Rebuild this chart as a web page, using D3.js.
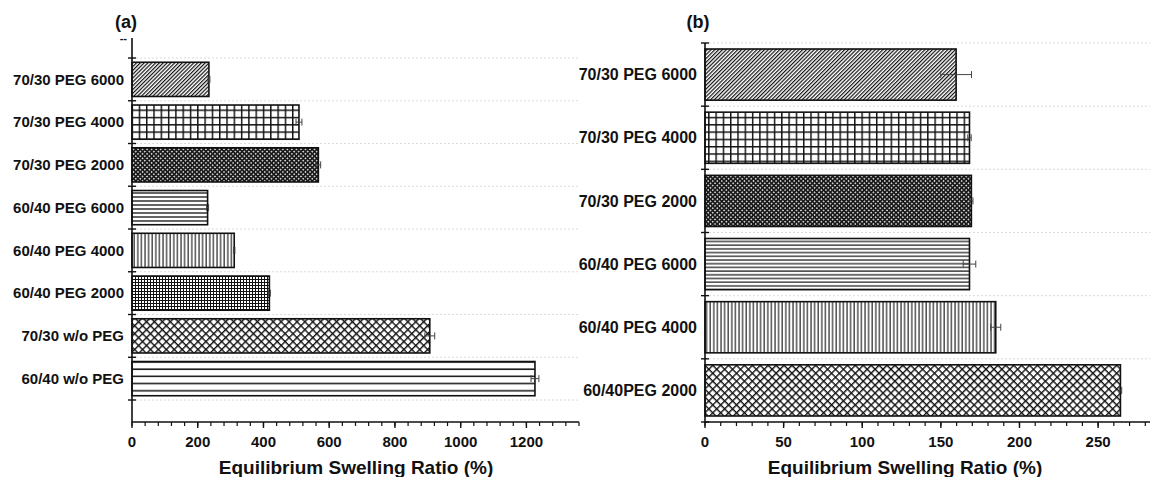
<!DOCTYPE html>
<html><head><meta charset="utf-8">
<script src="https://cdn.jsdelivr.net/npm/d3@7"></script>
<style>
body{margin:0;background:#fff;}
svg{display:block;font-family:"Liberation Sans",Arial,sans-serif;font-weight:bold;}
</style></head>
<body>
<svg id="chart" width="1153" height="477"></svg>
<script>
// Panel (a)
const catsA = ["70/30 PEG 6000","70/30 PEG 4000","70/30 PEG 2000","60/40 PEG 6000","60/40 PEG 4000","60/40 PEG 2000","70/30 w/o PEG","60/40 w/o PEG"];
const valsA = [234, 508, 567, 230, 311, 418, 906, 1226];
const errA  = [3, 9, 7, 3, 2, 3, 15, 12];
const patA  = ["diag","grid","dots","hlines","vlines","fgrid","xhatch","hsparse"];
const ticksA = [0,200,400,600,800,1000,1200];
// Panel (b)
const catsB = ["70/30 PEG 6000","70/30 PEG 4000","70/30 PEG 2000","60/40 PEG 6000","60/40 PEG 4000","60/40PEG 2000"];
const valsB = [159.7, 168.2, 169.4, 168.2, 184.9, 264.2];
const errB  = [9.8, 1.1, 1.0, 4.0, 3.2, 0.8];
const patB  = ["diag","grid","dots","hlines2","vlines","xhatch"];
const ticksB = [0,50,100,150,200,250];

const svg = d3.select("#chart");
const defs = svg.append("defs");
function pat(id, w, h, transform){
  const p = defs.append("pattern").attr("id", id).attr("patternUnits","userSpaceOnUse")
    .attr("width", w).attr("height", h);
  if (transform) p.attr("patternTransform", transform);
  p.append("rect").attr("width", w).attr("height", h).attr("fill","#fff");
  return p;
}
// diagonal
pat("diag", 2.7, 10, "rotate(45)").append("line").attr("x1",0.6).attr("x2",0.6).attr("y1",0).attr("y2",10).attr("stroke","#111").attr("stroke-width",1.2);
// grid
{ const p = pat("grid", 7.3, 7.3);
  p.append("line").attr("x1",0).attr("x2",7.3).attr("y1",0.7).attr("y2",0.7).attr("stroke","#111").attr("stroke-width",1.5);
  p.append("line").attr("y1",0).attr("y2",7.3).attr("x1",0.7).attr("x2",0.7).attr("stroke","#111").attr("stroke-width",1.5); }
// dots
{ const p = pat("dots", 3.2, 3.2, "rotate(45)");
  p.select("rect").attr("fill","#1a1a1a");
  p.append("rect").attr("x",0.9).attr("y",0.9).attr("width",1.4).attr("height",1.4).attr("fill","#fff"); }
// horizontal lines
pat("hlines", 10, 4).append("line").attr("x1",0).attr("x2",10).attr("y1",1).attr("y2",1).attr("stroke","#111").attr("stroke-width",1.3);
pat("hlines2", 10, 3.7).append("line").attr("x1",0).attr("x2",10).attr("y1",1).attr("y2",1).attr("stroke","#111").attr("stroke-width",1.2);
// vertical lines
pat("vlines", 3.6, 10).append("line").attr("x1",1).attr("x2",1).attr("y1",0).attr("y2",10).attr("stroke","#111").attr("stroke-width",1.1);
// fine grid
{ const p = pat("fgrid", 3, 3);
  p.append("line").attr("x1",0).attr("x2",3).attr("y1",0.5).attr("y2",0.5).attr("stroke","#111").attr("stroke-width",1);
  p.append("line").attr("y1",0).attr("y2",3).attr("x1",0.5).attr("x2",0.5).attr("stroke","#111").attr("stroke-width",1); }
// cross hatch
{ const p = pat("xhatch", 5.6, 5.6, "rotate(45)");
  p.append("line").attr("x1",0).attr("x2",5.6).attr("y1",0.7).attr("y2",0.7).attr("stroke","#111").attr("stroke-width",1.4);
  p.append("line").attr("y1",0).attr("y2",5.6).attr("x1",0.7).attr("x2",0.7).attr("stroke","#111").attr("stroke-width",1.4); }
// sparse horizontal
pat("hsparse", 10, 7.2).append("line").attr("x1",0).attr("x2",10).attr("y1",2).attr("y2",2).attr("stroke","#111").attr("stroke-width",1.5);

function panel(cfg){
  const {cats, vals, errs, pats, ticks, domainMax, xr, yr, axisTop, xAxisY, minorStep, labelText, labelX} = cfg;
  const g = svg.append("g");
  const x = d3.scaleLinear().domain([0, domainMax]).range(xr);
  const y = d3.scaleBand().domain(cats).range(yr).padding(0);
  const bw = y.bandwidth();
  const inset = bw * cfg.inset;
  const bounds = cats.map(c => y(c)).concat([yr[1]]);

  // gridlines
  g.selectAll(".grid").data(bounds).join("line")
    .attr("x1", xr[0]).attr("x2", xr[1]).attr("y1", d=>d).attr("y2", d=>d)
    .attr("stroke","#d0d0d0").attr("stroke-width",0.8).attr("stroke-dasharray","2,2");

  // bars
  g.selectAll(".bar").data(cats).join("rect")
    .attr("x", x(0)).attr("y", c => y(c) + inset)
    .attr("width", (c,i) => x(vals[i]) - x(0)).attr("height", bw - 2*inset)
    .attr("fill", (c,i) => `url(#${pats[i]})`).attr("stroke","#111").attr("stroke-width",1.6);

  // error bars
  cats.forEach((c,i) => {
    const cy = y(c) + bw/2, x1 = x(vals[i]-errs[i]), x2 = x(vals[i]+errs[i]);
    g.append("line").attr("x1",x1).attr("x2",x2).attr("y1",cy).attr("y2",cy).attr("stroke","#444").attr("stroke-width",1);
    [x1,x2].forEach(xx => g.append("line").attr("x1",xx).attr("x2",xx).attr("y1",cy-3.5).attr("y2",cy+3.5).attr("stroke","#444").attr("stroke-width",1));
  });

  // y axis
  g.append("line").attr("x1",xr[0]).attr("x2",xr[0]).attr("y1",axisTop).attr("y2",xAxisY).attr("stroke","#111").attr("stroke-width",1.6);
  g.selectAll(".yt").data(bounds).join("line")
    .attr("x1", xr[0]-4).attr("x2", xr[0]+4).attr("y1", d=>d).attr("y2", d=>d)
    .attr("stroke","#111").attr("stroke-width",1.4);
  g.selectAll(".yl").data(cats).join("text")
    .attr("x", xr[0]-cfg.labelGap).attr("y", c => y(c) + bw/2).attr("dy","0.35em")
    .attr("text-anchor","end").attr("font-size",cfg.labelSize).attr("fill","#111").text(c=>c);

  // x axis
  g.append("line").attr("x1",xr[0]).attr("x2",xr[1]).attr("y1",xAxisY).attr("y2",xAxisY).attr("stroke","#111").attr("stroke-width",1.6);
  const minors = d3.range(0, domainMax + 0.001, minorStep);
  g.selectAll(".xm").data(minors).join("line")
    .attr("x1", d=>x(d)).attr("x2", d=>x(d)).attr("y1", xAxisY).attr("y2", xAxisY+4)
    .attr("stroke","#111").attr("stroke-width",1.2);
  g.selectAll(".xM").data(ticks).join("line")
    .attr("x1", d=>x(d)).attr("x2", d=>x(d)).attr("y1", xAxisY).attr("y2", xAxisY+6)
    .attr("stroke","#111").attr("stroke-width",1.4);
  g.selectAll(".xl").data(ticks).join("text")
    .attr("x", d=>x(d)).attr("y", xAxisY+20).attr("dy","0.35em").attr("text-anchor","middle")
    .attr("font-size",15).attr("fill","#111").text(d=>d);
  g.append("text").attr("x",cfg.titleX).attr("y",467).attr("dy","0.35em").attr("text-anchor","middle")
    .attr("font-size",19).attr("fill","#111").text("Equilibrium Swelling Ratio (%)");
  g.append("text").attr("x",labelX).attr("y",22).attr("dy","0.35em").attr("text-anchor","middle")
    .attr("font-size",18).attr("fill","#111").text(labelText);
  return g;
}

const gA = panel({cats:catsA, vals:valsA, errs:errA, pats:patA, ticks:ticksA, domainMax:1360,
  xr:[132,579], yr:[58,400], axisTop:38, xAxisY:422, minorStep:40, inset:0.1,
  labelText:"(a)", labelX:126, labelGap:8, labelSize:15, titleX:356});
gA.append("text").attr("x",127).attr("y",38).attr("dy","0.35em").attr("text-anchor","end")
  .attr("font-size",11).attr("fill","#111").text("--");

panel({cats:catsB, vals:valsB, errs:errB, pats:patB, ticks:ticksB, domainMax:283,
  xr:[705,1150], yr:[43,422], axisTop:43, xAxisY:422, minorStep:10, inset:0.095,
  labelText:"(b)", labelX:698, labelGap:8, labelSize:16, titleX:905});
</script>
</body></html>
